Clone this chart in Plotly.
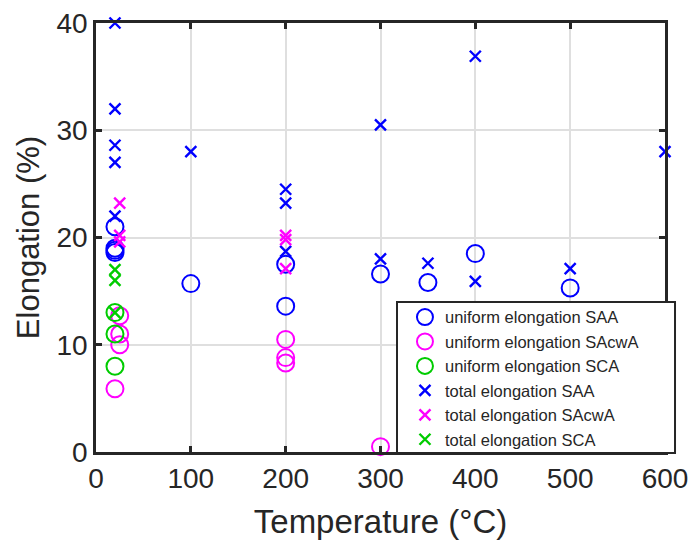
import plotly.graph_objects as go

# uniform elongation
u_saa_x = [20, 20, 20, 20, 100, 200, 200, 300, 350, 400, 500]
u_saa_y = [21.0, 19.0, 18.8, 18.6, 15.7, 17.5, 13.6, 16.6, 15.8, 18.5, 15.3]
u_sacwa_x = [25, 25, 25, 20, 200, 200, 200, 300]
u_sacwa_y = [12.7, 11.0, 10.0, 5.9, 10.5, 8.8, 8.3, 0.5]
u_sca_x = [20, 20, 20]
u_sca_y = [13.0, 11.0, 8.0]
# total elongation
t_saa_x = [20, 20, 20, 20, 20, 100, 200, 200, 200, 300, 300, 350, 400, 400, 500, 600]
t_saa_y = [40.0, 32.0, 28.6, 27.0, 22.0, 28.0, 24.5, 23.2, 18.7, 30.5, 18.0, 17.6, 36.9, 15.9, 17.1, 28.0]
t_sacwa_x = [25, 25, 25, 200, 200, 200]
t_sacwa_y = [23.2, 20.2, 19.6, 20.2, 19.8, 17.1]
t_sca_x = [20, 20, 20]
t_sca_y = [17.0, 16.0, 13.0]

BLUE = "#0000FF"
MAG = "#FF00FF"
GRN = "#00CC00"
FONT = "Liberation Sans, Arial"
DARK = "#262626"

fig = go.Figure()

def circ(x, y, c, name):
    fig.add_trace(go.Scatter(x=x, y=y, mode="markers", name=name, cliponaxis=False,
                             marker=dict(symbol="circle-open", size=17, color=c,
                                         line=dict(width=2, color=c))))

def cross(x, y, c, name):
    fig.add_trace(go.Scatter(x=x, y=y, mode="markers", name=name, cliponaxis=False,
                             marker=dict(symbol="x-thin-open", size=11, color=c,
                                         line=dict(width=2.4, color=c))))

circ(u_saa_x, u_saa_y, BLUE, "uniform elongation SAA")
circ(u_sacwa_x, u_sacwa_y, MAG, "uniform elongation SAcwA")
circ(u_sca_x, u_sca_y, GRN, "uniform elongation SCA")
cross(t_saa_x, t_saa_y, BLUE, "total elongation SAA")
cross(t_sacwa_x, t_sacwa_y, MAG, "total elongation SAcwA")
cross(t_sca_x, t_sca_y, GRN, "total elongation SCA")

axis_common = dict(showline=True, linecolor=DARK, linewidth=2.5, mirror="ticks",
                   ticks="inside", ticklen=6, tickwidth=2.5, tickcolor=DARK,
                   showgrid=True, gridcolor="#DFDFDF", gridwidth=2, zeroline=False,
                   automargin=False,
                   tickfont=dict(family=FONT, size=28, color=DARK))

fig.update_xaxes(range=[0, 600], tickvals=[0, 100, 200, 300, 400, 500, 600],
                 title=dict(text="Temperature (°C)", font=dict(family=FONT, size=33, color=DARK), standoff=17),
                 **axis_common)
fig.update_yaxes(range=[0, 40], tickvals=[0, 10, 20, 30, 40],
                 title=dict(text="Elongation (%)", font=dict(family=FONT, size=31, color=DARK), standoff=8),
                 **axis_common)

# legend frame (white box with dark border) drawn as a shape beneath the legend
fig.add_shape(type="rect", xref="paper", yref="paper",
              x0=0.529, x1=1.0176, y0=-0.0023, y1=0.3497,
              fillcolor="white", line=dict(color=DARK, width=2), layer="above")

fig.update_layout(
    width=692, height=543,
    margin=dict(l=96, r=27, t=23, b=91),
    plot_bgcolor="white", paper_bgcolor="white",
    legend=dict(x=0.543, y=0.3548, xanchor="left", yanchor="top",
                bgcolor="rgba(0,0,0,0)", borderwidth=0,
                font=dict(family=FONT, size=16.5, color=DARK),
                tracegroupgap=0, itemsizing="trace"),
)

fig.write_html("out.html")
